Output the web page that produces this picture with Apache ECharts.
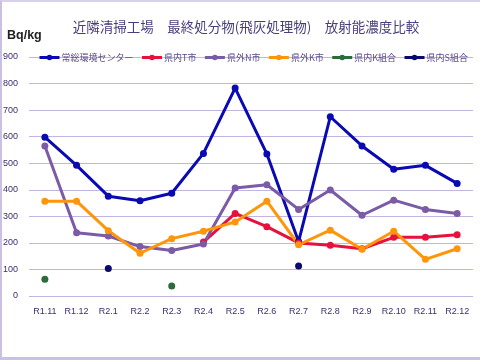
<!DOCTYPE html>
<html><head><meta charset="utf-8">
<script src="https://cdn.jsdelivr.net/npm/echarts@6/dist/echarts.min.js"></script>
<style>
html,body{margin:0;padding:0;background:#fff;}
#wrap{position:absolute;left:0;top:0;width:480px;height:360px;box-sizing:border-box;border-left:2px solid #c9c0e2;border-top:2px solid #d8d0ec;border-bottom:3px solid #c9c0e2;}
#c{position:absolute;left:0;top:0;width:480px;height:360px;}
</style></head>
<body><div id="wrap"></div><div id="c"></div>
<script>
const categories = ['R1.11','R1.12','R2.1','R2.2','R2.3','R2.4','R2.5','R2.6','R2.7','R2.8','R2.9','R2.10','R2.11','R2.12'];
const seriesNames = ['常総環境センター','県内T市','県外N市','県外K市','県内K組合','県内S組合'];
const joso   = [598, 492, 376, 359, 387, 537, 783, 535, 205, 675, 565, 477, 492, 424];
const kenT   = [null, null, null, null, null, 203, 311, 261, 200, 191, 178, 221, 221, 231];
const gaiN   = [565, 238, 226, 186, 171, 196, 407, 419, 326, 399, 304, 361, 326, 311];
const gaiK   = [357, 357, 246, 161, 216, 244, 279, 357, 193, 248, 176, 244, 138, 178];
const kenK   = [63, null, null, null, 38, null, null, null, null, null, null, null, null, null];
const kenS   = [null, null, 104, null, null, null, null, null, 113, null, null, null, null, null];
const yTicks = [0,100,200,300,400,500,600,700,800,900];
const colors = ['#0a0ab4','#e8103c','#7b5aa6','#ff960a','#2e6b3c','#0a0a6e'];
const dataSets = [joso, kenT, gaiN, gaiK, kenK, kenS];

const chart = echarts.init(document.getElementById('c'), null, {renderer:'canvas'});
chart.setOption({
  animation:false,
  title:{text:'近隣清掃工場　最終処分物(飛灰処理物)　放射能濃度比較', left:241, textAlign:'center', top:15,
    textStyle:{fontSize:13.5, fontWeight:'normal', color:'#4a3c7e', fontFamily:'Noto Sans CJK JP'}},
  graphic:[{type:'text', left:7, top:29, style:{text:'Bq/kg', fontSize:12.5, fontWeight:'bold', fill:'#222', fontFamily:'Liberation Sans'}}],
  legend:{top:53, left:38, right:0, itemWidth:20, itemHeight:7, itemGap:7, padding:0,
    lineStyle:{width:3},
    textStyle:{fontSize:9, color:'#5a4a8e', fontFamily:'Noto Sans CJK JP', padding:[0,0,0,-3]},
    data:seriesNames},
  grid:{left:28, right:7, top:57, bottom:64},
  xAxis:{type:'category', data:categories, boundaryGap:true,
    axisLine:{show:false}, axisTick:{show:false},
    axisLabel:{fontSize:9, color:'#3c2e6e', margin:11, fontFamily:'Liberation Sans Narrow, Liberation Sans'}},
  yAxis:{type:'value', min:yTicks[0], max:yTicks[yTicks.length-1], interval:100,
    axisLine:{show:false}, axisTick:{show:false},
    axisLabel:{fontSize:9, color:'#3c2e6e', margin:11, fontFamily:'Liberation Sans'},
    splitLine:{lineStyle:{color:'#c4b4e0', width:1}}},
  series: seriesNames.map((n,i)=>({
    name:n, type:'line', data:dataSets[i], connectNulls:false,
    symbol:'circle', symbolSize:7,
    lineStyle:{width:3, color:colors[i]}, itemStyle:{color:colors[i]}
  }))
});
</script></body></html>
